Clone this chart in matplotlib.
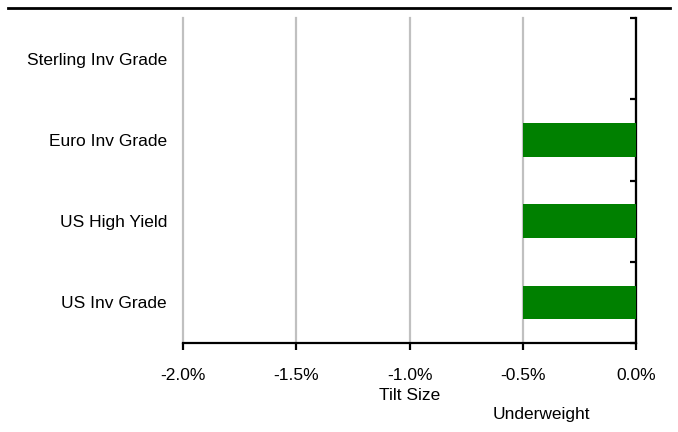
import matplotlib
matplotlib.use('Agg')
import matplotlib.pyplot as plt
from matplotlib.ticker import FuncFormatter

categories = ['US Inv Grade', 'US High Yield', 'Euro Inv Grade', 'Sterling Inv Grade']
tilt = [-0.5, -0.5, -0.5, 0.0]
xticks = [-2.0, -1.5, -1.0, -0.5, 0.0]

plt.rcParams['font.family'] = ['Liberation Sans', 'DejaVu Sans']

fig = plt.figure(figsize=(6.78, 4.32), dpi=100)
ax = fig.add_axes([183 / 678, 1 - 343 / 432, 453 / 678, 325 / 432])

ypos = range(len(categories))
ax.barh(ypos, tilt, height=0.41, color='#008000', zorder=3)

ax.set_xlim(-2.0, 0.0)
ax.set_ylim(-0.5, len(categories) - 0.5)
ax.set_xticks(xticks)
ax.xaxis.set_major_formatter(FuncFormatter(lambda v, p: '%.1f%%' % v))
ax.grid(axis='x', color='#c0c0c0', lw=1.6, zorder=0)
for gl in ax.get_xgridlines():
    gl.set_clip_on(False)

# category labels sit on the left, boundary ticks on the right spine
ax.set_yticks(list(ypos))
ax.set_yticklabels(categories)
ax.set_yticks([i - 0.5 for i in range(len(categories) + 1)], minor=True)
ax.tick_params(axis='y', which='major', length=0, pad=11.5, labelsize=12.5)
ax.tick_params(axis='y', which='minor', left=False, right=True, direction='in',
               length=4.5, width=1.6)
ax.tick_params(axis='x', which='major', direction='out', length=5, width=1.6,
               labelsize=12.5, pad=13)

for s in ['top', 'left']:
    ax.spines[s].set_visible(False)
ax.spines['right'].set_linewidth(1.6)
ax.spines['bottom'].set_linewidth(1.6)

fig.text(410 / 678, 1 - 396 / 432, 'Tilt Size', ha='center', va='center', fontsize=12.5)
fig.text(541 / 678, 1 - 415 / 432, 'Underweight', ha='center', va='center', fontsize=12.5)
fig.add_artist(plt.Line2D([8 / 678, 670 / 678], [1 - 8 / 432, 1 - 8 / 432],
                          color='black', lw=2.0))

fig.savefig('out.png', dpi=100)
